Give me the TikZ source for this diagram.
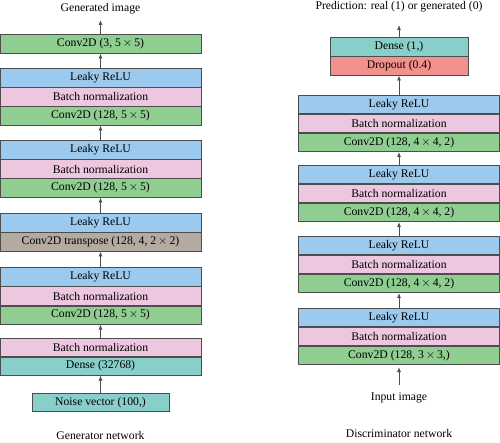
\documentclass[tikz,border=0pt]{standalone}
\usepackage{fontspec}
\setmainfont{Liberation Serif}
\usetikzlibrary{positioning,arrows.meta}
\definecolor{relucol}{RGB}{156,201,238}
\definecolor{bnormcol}{RGB}{237,199,224}
\definecolor{convcol}{RGB}{143,205,145}
\definecolor{densecol}{RGB}{136,207,202}
\definecolor{dropcol}{RGB}{242,144,142}
\definecolor{tconvcol}{RGB}{179,171,162}
\definecolor{edgecol}{RGB}{77,77,77}
\tikzset{
  layer/.style={draw=edgecol,line width=.8pt,minimum width=201pt,minimum height=18.2pt,inner sep=0pt,font=\fontsize{11.7}{13}\selectfont},
  relu/.style={layer,fill=relucol},
  bnorm/.style={layer,fill=bnormcol},
  conv/.style={layer,fill=convcol},
  tconv/.style={layer,fill=tconvcol},
  dense/.style={layer,fill=densecol},
  drop/.style={layer,fill=dropcol},
  caption/.style={font=\fontsize{11.7}{13}\selectfont,inner sep=0pt},
  arr/.style={draw=edgecol,line width=.8pt,-{Latex[length=5pt,width=4pt]}}
}
\begin{document}
\begin{tikzpicture}[x=1pt,y=-1pt]
\useasboundingbox (0,0) rectangle (500,443);
% generator
\node[caption] (gout) at (100.5,9) {Generated image};
\node[conv] (g0) at (100.5,44) {Conv2D (3, 5\,$\times$\,5)};
\foreach \i/\y in {1/78,2/150,4/277}
{
	\node[relu] (g\i r) at (100.5,\y) {Leaky ReLU};
	\node[bnorm,below=0pt of g\i r] (g\i b) {Batch normalization};
	\node[conv,below=0pt of g\i b] (g\i c) {Conv2D (128, 5\,$\times$\,5)};
}
\node[relu] (g3r) at (100.5,223) {Leaky ReLU};
\node[tconv,below=0pt of g3r] (g3c) {Conv2D transpose (128, 4, 2\,$\times$\,2)};
\node[bnorm] (g5r) at (100.5,347) {Batch normalization};
\node[dense,below=0pt of g5r] (g5c) {Dense (32768)};
\node[dense,minimum width=137pt] (noise) at (100.5,402.5) {Noise vector (100,)};
\node[caption] (gname) at (100.5,435) {Generator network};
\draw[arr] (noise) -- (g5c);
\foreach \i/\j in {5/4,4/3,3/2,2/1}
{
	\draw[arr] (g\i r) -- (g\j c);
}
\draw[arr] (g1r) -- (g0);
\coordinate (gtip) at (100.5,20);
\draw[arr] (g0) -- (gtip);
% discriminator
\node[caption] (dout) at (399,7) {Prediction: real (1) or generated (0)};
\node[dense,minimum width=138pt] (dd) at (399,47) {Dense (1,)};
\node[drop,minimum width=138pt,below=0pt of dd] (dp) {Dropout (0.4)};
\foreach \i/\y/\k in {1/104.5/{4\,$\times$\,4, 2},2/174.5/{4\,$\times$\,4, 2},3/245.5/{4\,$\times$\,4, 2},4/317.5/{3\,$\times$\,3,}}
{
	\node[relu] (d\i r) at (399,\y) {Leaky ReLU};
	\node[bnorm,below=0pt of d\i r] (d\i b) {Batch normalization};
	\node[conv,below=0pt of d\i b] (d\i c) {Conv2D (128, \k)};
}
\foreach \i/\j in {4/3,3/2,2/1}
{
	\draw[arr] (d\i r) -- (d\j c);
}
\draw[arr] (d1r) -- (dp);
\coordinate (dtip) at (399,25);
\draw[arr] (dd) -- (dtip);
\node[caption] (din) at (399,398) {Input image};
\coordinate (dtail) at (399,385);
\coordinate (dhead) at (399,367);
\draw[arr] (dtail) -- (dhead);
\node[caption] (dname) at (399,433) {Discriminator network};
\end{tikzpicture}
\end{document}
